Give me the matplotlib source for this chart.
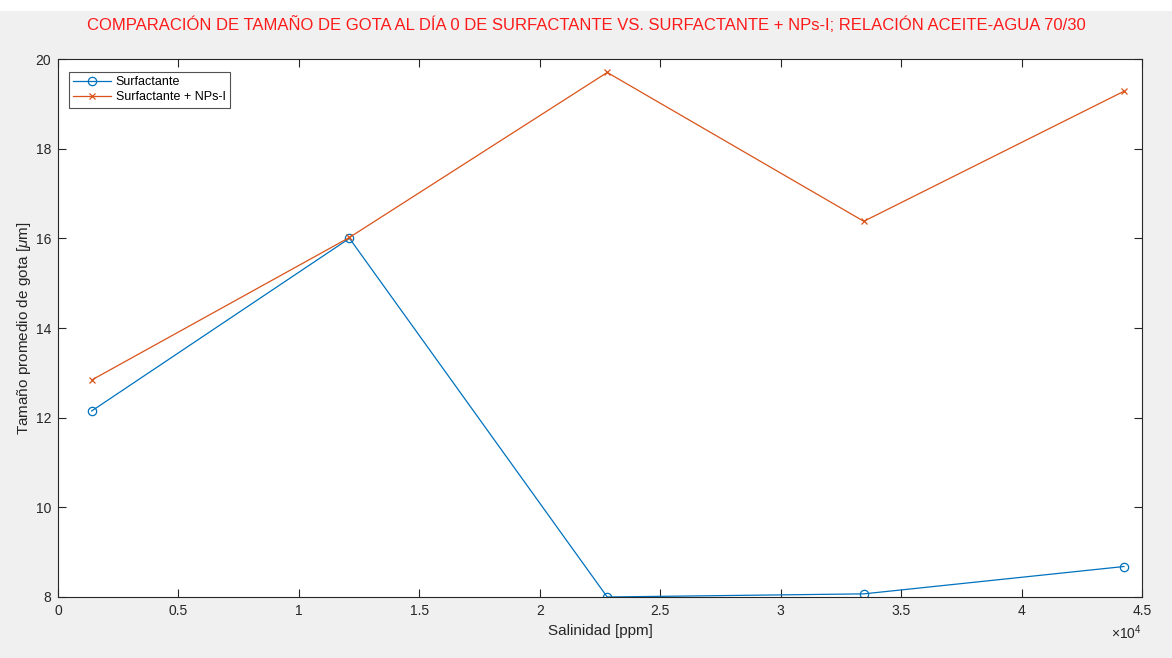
import matplotlib
matplotlib.use("Agg")
import matplotlib.pyplot as plt
from matplotlib.patches import Rectangle
from matplotlib.ticker import FuncFormatter, MultipleLocator

plt.rcParams['font.family'] = ['Liberation Sans', 'DejaVu Sans']
plt.rcParams['mathtext.fontset'] = 'custom'
plt.rcParams['mathtext.it'] = 'Liberation Sans:italic'
plt.rcParams['mathtext.rm'] = 'Liberation Sans'

salinidad = [1400, 12100, 22800, 33450, 44250]
surfactante = [12.15, 16.0, 8.0, 8.07, 8.68]
surfactante_nps = [12.84, 16.02, 19.70, 16.38, 19.28]

title = "COMPARACIÓN DE TAMAÑO DE GOTA AL DÍA 0 DE SURFACTANTE VS. SURFACTANTE + NPs-I; RELACIÓN ACEITE-AGUA 70/30"
xlabel = "Salinidad [ppm]"
ylabel = "Tamaño promedio de gota [$\\mu$m]"
labels = ["Surfactante", "Surfactante + NPs-I"]

W, H = 1172, 658
fig = plt.figure(figsize=(W / 100, H / 100), dpi=100)
fig.patch.set_facecolor('#f0f0f0')
fig.patches.append(Rectangle((0, 1 - 11 / H), 1, 11 / H, transform=fig.transFigure,
                             facecolor='white', edgecolor='none', zorder=0))

L, R, T, B = 58, 1142, 59, 597
ax = fig.add_axes([L / W, 1 - B / H, (R - L) / W, (B - T) / H])
ax.set_facecolor('white')

c1 = '#0072BD'
c2 = '#D95319'
ax.plot(salinidad, surfactante, color=c1, lw=0.9, marker='o', markersize=6,
        markerfacecolor='none', markeredgecolor=c1, markeredgewidth=0.9, label=labels[0])
ax.plot(salinidad, surfactante_nps, color=c2, lw=0.9, marker='x', markersize=5,
        markeredgewidth=0.9, label=labels[1])

ax.set_xlim(0, 45000)
ax.set_ylim(8, 20)
ax.xaxis.set_major_locator(MultipleLocator(5000))
ax.yaxis.set_major_locator(MultipleLocator(2))
ax.xaxis.set_major_formatter(FuncFormatter(lambda v, p: f"{v/1e4:g}"))
ax.yaxis.set_major_formatter(FuncFormatter(lambda v, p: f"{v:g}"))

tc = '#262626'
for s in ax.spines.values():
    s.set_color(tc)
    s.set_linewidth(0.8)
ax.tick_params(direction='in', top=True, right=True, length=6, width=0.8,
               colors=tc, labelsize=10, pad=5)

ax.set_xlabel(xlabel, fontsize=11, color=tc, labelpad=4)
ax.set_ylabel(ylabel, fontsize=11, color=tc, labelpad=2)

fig.text(0.5, 1 - 25 / H, title, ha='center', va='center', color='#ff1a1a', fontsize=12)
fig.text(1142 / W, 1 - 633 / H, "×10$^4$", ha='right', va='center', color=tc, fontsize=10)

leg = ax.legend(loc='upper left', bbox_to_anchor=(0.010, 0.976), fontsize=9,
                frameon=True, fancybox=False, borderpad=0.35, labelspacing=0.25,
                handlelength=3.0, handletextpad=0.4, borderaxespad=0)
leg.get_frame().set_edgecolor(tc)
leg.get_frame().set_linewidth(0.8)

fig.savefig('out.png', dpi=100, facecolor=fig.get_facecolor())
